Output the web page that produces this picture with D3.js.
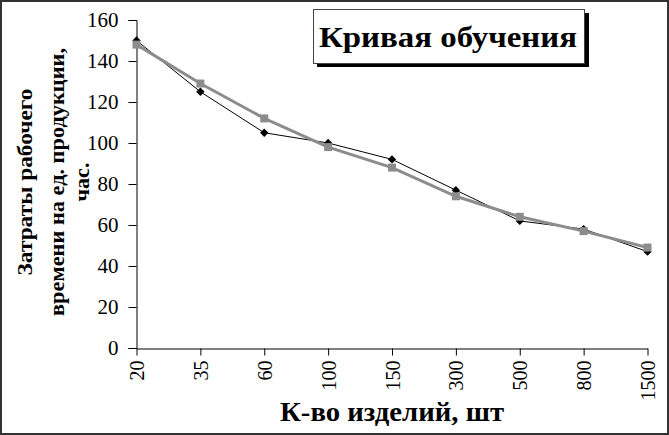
<!DOCTYPE html>
<html>
<head>
<meta charset="utf-8">
<script src="https://cdn.jsdelivr.net/npm/d3@7"></script>
<style>
  body { margin: 0; background: #fff; }
  svg { display: block; }
  text { font-family: "Liberation Serif", "Times New Roman", serif; }
</style>
</head>
<body>
<div id="chart"></div>
<script>
// categories on the x axis (items produced)
var categories = ['20', '35', '60', '100', '150', '300', '500', '800', '1500'];
// actual labour cost, hours per unit (black, diamonds)
var actual = [150, 125, 105, 100, 92, 77, 62, 58, 47];
// fitted learning curve (grey, squares)
var fitted = [148, 129, 112, 98, 88, 74, 64, 57, 49];
var yTicks = [0, 20, 40, 60, 80, 100, 120, 140, 160];
var yTitle = ['Затраты рабочего', 'времени на ед. продукции,', 'час.'];

var width = 669, height = 435;

var svg = d3.select('#chart').append('svg')
  .attr('width', width)
  .attr('height', height);

svg.append('rect')
  .attr('x', 1).attr('y', 1)
  .attr('width', width - 2).attr('height', height - 2)
  .attr('fill', '#fff')
  .attr('stroke', '#333')
  .attr('stroke-width', 2);

var x = d3.scalePoint()
  .domain(categories)
  .range([136.5, 647.5]);

var y = d3.scaleLinear()
  .domain([0, 160])
  .range([348, 20]);

// y axis
var yAxis = svg.append('g')
  .attr('transform', 'translate(136.5,0)')
  .call(d3.axisLeft(y).tickValues(yTicks).tickSize(8).tickPadding(10));
yAxis.select('.domain').attr('stroke', '#000');
yAxis.selectAll('.tick line').attr('stroke', '#000');
yAxis.selectAll('.tick text')
  .attr('fill', '#000')
  .style('font-size', '21px')
  .style('font-family', '"Liberation Serif", serif');

// x axis
var xAxis = svg.append('g')
  .attr('transform', 'translate(0,348.5)')
  .call(d3.axisBottom(x).tickSize(7).tickSizeOuter(0));
xAxis.select('.domain').attr('stroke', '#000');
xAxis.selectAll('.tick line').attr('stroke', '#000');
xAxis.selectAll('.tick text')
  .attr('fill', '#000')
  .style('font-size', '20px')
  .style('font-family', '"Liberation Serif", serif')
  .attr('transform', 'rotate(-90)')
  .attr('x', -12)
  .attr('y', 0)
  .attr('dy', '0.35em')
  .attr('text-anchor', 'end');

// series
var line = d3.line()
  .x(function(d, i) { return x(categories[i]); })
  .y(function(d) { return y(d); });

svg.append('path')
  .datum(actual)
  .attr('d', line)
  .attr('fill', 'none')
  .attr('stroke', '#000')
  .attr('stroke-width', 1);

svg.selectAll('.diamond')
  .data(actual)
  .enter()
  .append('path')
  .attr('class', 'diamond')
  .attr('d', d3.symbol().type(d3.symbolDiamond2).size(44))
  .attr('transform', function(d, i) {
    return 'translate(' + x(categories[i]) + ',' + y(d) + ')';
  })
  .attr('fill', '#000');

svg.append('path')
  .datum(fitted)
  .attr('d', line)
  .attr('fill', 'none')
  .attr('stroke', '#8c8c8c')
  .attr('stroke-width', 3);

svg.selectAll('.square')
  .data(fitted)
  .enter()
  .append('rect')
  .attr('class', 'square')
  .attr('x', function(d, i) { return x(categories[i]) - 4; })
  .attr('y', function(d) { return y(d) - 4; })
  .attr('width', 8)
  .attr('height', 8)
  .attr('fill', '#8c8c8c');

// title box
svg.append('rect')
  .attr('x', 317).attr('y', 13)
  .attr('width', 272).attr('height', 54)
  .attr('fill', '#000');
svg.append('rect')
  .attr('x', 313.5).attr('y', 9.5)
  .attr('width', 271).attr('height', 54)
  .attr('fill', '#fff')
  .attr('stroke', '#444')
  .attr('stroke-width', 1);
svg.append('text')
  .attr('x', 448).attr('y', 47)
  .attr('text-anchor', 'middle')
  .attr('textLength', 258)
  .attr('lengthAdjust', 'spacingAndGlyphs')
  .style('font-size', '30px')
  .style('font-weight', 'bold')
  .text('Кривая обучения');

// axis titles
svg.append('text')
  .attr('x', 392).attr('y', 421)
  .attr('text-anchor', 'middle')
  .attr('textLength', 224)
  .attr('lengthAdjust', 'spacingAndGlyphs')
  .style('font-size', '27px')
  .style('font-weight', 'bold')
  .text('К-во изделий, шт');

var yLines = [32, 64, 89];
var yLens = [187, 268, 39];
svg.append('g')
  .selectAll('text')
  .data(yTitle)
  .enter()
  .append('text')
  .attr('transform', function(d, i) {
    return 'translate(' + yLines[i] + ',182) rotate(-90)';
  })
  .attr('text-anchor', 'middle')
  .attr('textLength', function(d, i) { return yLens[i]; })
  .attr('lengthAdjust', 'spacingAndGlyphs')
  .style('font-size', '20px')
  .style('font-weight', 'bold')
  .text(function(d) { return d; });
</script>
</body>
</html>
